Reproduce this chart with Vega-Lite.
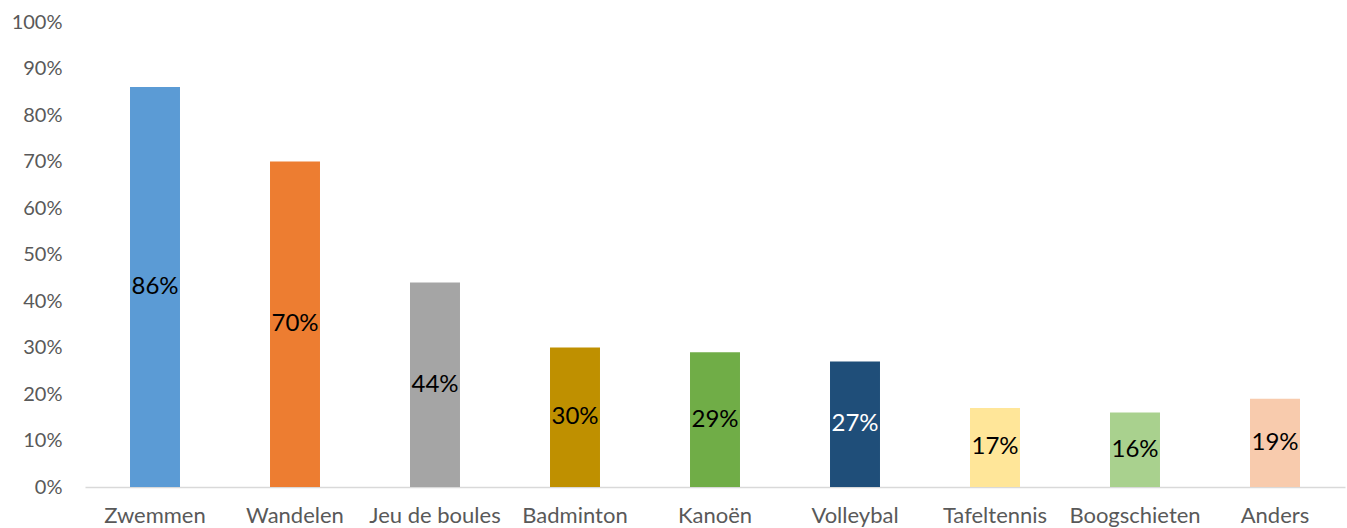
{
  "$schema": "https://vega.github.io/schema/vega-lite/v6.json",
  "autosize": "none",
  "width": 1260,
  "height": 465,
  "padding": {"left": 85, "top": 22, "right": 2, "bottom": 41},
  "background": "white",
  "config": {"view": {"stroke": null}, "font": "Lato"},
  "data": {"values": [
    {"sport": "Zwemmen", "pct": 0.86, "color": "#5B9BD5", "tc": "black"},
    {"sport": "Wandelen", "pct": 0.70, "color": "#ED7D31", "tc": "black"},
    {"sport": "Jeu de boules", "pct": 0.44, "color": "#A5A5A5", "tc": "black"},
    {"sport": "Badminton", "pct": 0.30, "color": "#BF9000", "tc": "black"},
    {"sport": "Kanoën", "pct": 0.29, "color": "#70AD47", "tc": "black"},
    {"sport": "Volleybal", "pct": 0.27, "color": "#1F4E79", "tc": "white"},
    {"sport": "Tafeltennis", "pct": 0.17, "color": "#FFE699", "tc": "black"},
    {"sport": "Boogschieten", "pct": 0.16, "color": "#A9D18E", "tc": "black"},
    {"sport": "Anders", "pct": 0.19, "color": "#F8CBAD", "tc": "black"}
  ]},
  "encoding": {
    "x": {"field": "sport", "type": "nominal", "sort": null,
      "scale": {"paddingInner": 0.643, "paddingOuter": 0.3215},
      "axis": {"title": null, "labelAngle": 0, "labelFontSize": 22, "labelColor": "#595959", "labelPadding": 18, "ticks": false, "domainColor": "#D9D9D9", "domainWidth": 1.5, "labelFont": "Lato"}}
  },
  "layer": [
    {"mark": {"type": "bar"},
     "encoding": {
       "y": {"field": "pct", "type": "quantitative", "scale": {"domain": [0, 1]},
         "axis": {"title": null, "format": ".0%", "values": [0,0.1,0.2,0.3,0.4,0.5,0.6,0.7,0.8,0.9,1], "grid": false, "domain": false, "ticks": false, "labelFontSize": 20, "labelColor": "#595959", "labelPadding": 23, "labelFont": "Lato"}},
       "color": {"field": "color", "type": "nominal", "scale": null}
     }},
    {"transform": [{"calculate": "datum.pct / 2", "as": "mid"}],
     "mark": {"type": "text", "fontSize": 24, "font": "Lato", "baseline": "middle", "align": "center"},
     "encoding": {
       "y": {"field": "mid", "type": "quantitative"},
       "text": {"field": "pct", "type": "quantitative", "format": ".0%"},
       "color": {"field": "tc", "type": "nominal", "scale": null}
     }}
  ]
}
